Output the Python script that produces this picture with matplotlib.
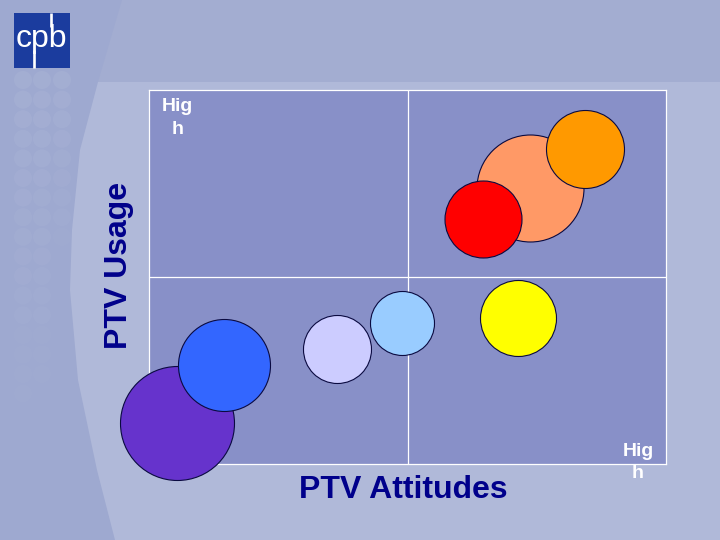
import matplotlib
matplotlib.use("Agg")
import matplotlib.pyplot as plt
from matplotlib.patches import Rectangle, Polygon, Circle

# ---- data ----
attitude = [0.55, 1.46, 3.63, 4.89, 7.14, 7.37, 6.46, 8.43]
usage = [1.09, 2.66, 3.07, 3.76, 3.90, 7.37, 6.56, 8.42]
bubble_size = [57, 46, 34, 32, 38, 53.5, 38.5, 39]
bubble_colors = ['#6633CC', '#3366FF', '#CCCCFF', '#99CCFF', '#FFFF00',
                 '#FF9966', '#FF0000', '#FF9900']
x_label = 'PTV Attitudes'
y_label = 'PTV Usage'
high_label = 'Hig\nh'

NAVY = '#00008B'
FONT = 'Liberation Sans'

fig = plt.figure(figsize=(7.2, 5.4), dpi=100)

# ---- slide background ----
bg = fig.add_axes([0, 0, 1, 1], zorder=-10)
bg.set_xlim(0, 720)
bg.set_ylim(540, 0)
bg.axis('off')
bg.add_patch(Rectangle((0, 0), 720, 540, color='#A3ADD1', lw=0))
bg.add_patch(Rectangle((0, 82), 720, 458, color='#B0B9D9', lw=0))
curve = [(0, 0), (122, 0), (98, 82), (80, 150), (72, 230), (70, 290),
         (78, 380), (97, 470), (115, 540), (0, 540)]
bg.add_patch(Polygon(curve, closed=True, color='#9EA9D0', lw=0))
# faint dot pattern
for ci, cx in enumerate([23, 42, 62]):
    nrows = [18, 17, 9][ci]
    for r in range(nrows):
        cy = 80 + r * 19.6
        a = 0.06 * (1 - r / (nrows + 2))
        bg.add_patch(Circle((cx, cy), 9, color='white', alpha=a, lw=0))
# logo
bg.add_patch(Rectangle((14, 13), 56, 55, color='#1B3C9E', lw=0))
bg.text(15.5, 47.3, 'cpb', color='white', fontsize=23, ha='left',
        va='baseline', family=FONT)
bg.plot([33.7, 33.7], [50, 68], color='white', lw=1.9, solid_capstyle='butt')
bg.plot([51.4, 51.4], [13, 27], color='white', lw=1.9, solid_capstyle='butt')

# ---- chart ----
ax = fig.add_axes([149 / 720, 1 - 464 / 540, 517 / 720, 374 / 540])
ax.set_facecolor('#8890C8')
ax.set_xlim(0, 10)
ax.set_ylim(0, 10)
ax.set_xticks([])
ax.set_yticks([])
for s in ax.spines.values():
    s.set_color('white')
    s.set_linewidth(0.9)
ax.axvline(5, color='white', lw=0.9, zorder=1)
ax.axhline(5, color='white', lw=0.9, zorder=1)

for xv, yv, sz, col in zip(attitude, usage, bubble_size, bubble_colors):
    ax.scatter([xv], [yv], s=(sz * 2 * 0.72) ** 2, color=col,
               edgecolor='#0A0A40', linewidth=0.8, clip_on=False, zorder=3)

# ---- labels ----
def fx(px):
    return px / 720

def fy(py):
    return 1 - py / 540

fig.text(fx(403), fy(498), x_label, ha='center', va='baseline',
         fontsize=23, fontweight='bold', color=NAVY, family=FONT)
fig.text(fx(119.5), fy(265), y_label, ha='center', va='center', rotation=90,
         fontsize=23, fontweight='bold', color=NAVY, family=FONT)
fig.text(fx(177.5), fy(98.5), high_label, ha='center', va='top',
         multialignment='center', fontsize=14, fontweight='bold',
         color='white', family=FONT, linespacing=1.4)
fig.text(fx(638), fy(442.5), high_label, ha='center', va='top',
         multialignment='center', fontsize=14, fontweight='bold',
         color='white', family=FONT, linespacing=1.4)

fig.savefig('out.png', dpi=100)
